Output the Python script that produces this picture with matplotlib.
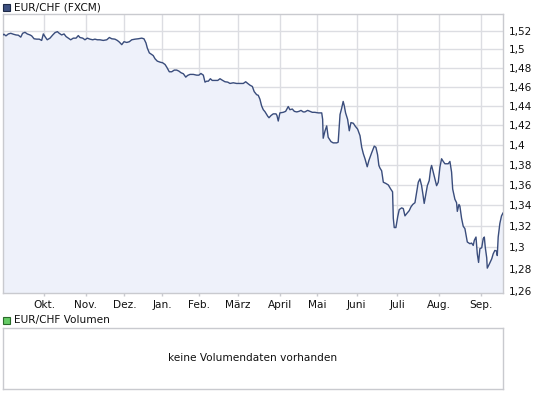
import matplotlib
matplotlib.use("Agg")
import matplotlib.pyplot as plt
from matplotlib.ticker import FixedLocator, NullLocator
from matplotlib.patches import Rectangle

# ---- data -------------------------------------------------------------
days = [0, 0.5, 1.6, 2.9, 4.2, 5.6, 7.0, 8.3, 9.6, 10.6, 11.9, 13.1, 14.6, 15.5,
        16.8, 18.2, 19.6, 20.9, 21.8, 22.7, 23.9, 25.4, 26.9, 28.1, 29.4, 30.4,
        31.7, 33.0, 34.1, 35.3, 36.6, 38.0, 39.5, 40.7, 41.6, 43.1, 44.3, 45.6,
        47.0, 48.5, 49.7, 51.0, 52.4, 54.2, 56.1, 57.5, 58.8, 60.5, 61.8, 62.9,
        64.2, 65.4, 66.9, 68.3, 69.6, 71.4, 73.1, 75.0, 76.2, 77.3, 78.0, 79.1,
        80.4, 81.2, 82.2, 83.4, 84.9, 86.3, 87.6, 88.5, 89.9, 91.2, 92.6, 93.9,
        95.1, 96.2, 97.5, 98.8, 99.8, 101.1, 102.9, 104.7, 105.9, 107.0, 108.3,
        109.2, 110.1, 111.0, 112.1, 113.1, 114.6, 116.1, 117.3, 118.5, 120.0,
        121.5, 122.7, 124.5, 126.3, 128.1, 129.9, 131.2, 132.3, 133.5, 134.8,
        135.8, 137.1, 138.0, 138.9, 139.8, 140.7, 141.6, 143.1, 143.8, 144.9,
        146.1, 147.6, 148.1, 148.8, 149.7, 151.5, 152.8, 154.2, 155.1, 156.4,
        157.5, 158.8, 160.0, 161.1, 162.3, 163.2, 164.7, 165.9, 167.2, 168.6,
        170.4, 172.3, 172.8, 173.1, 174.1, 175.0, 175.8, 177.3, 178.5, 180.4,
        181.2, 181.6, 182.2, 183.1, 183.9, 184.5, 185.2, 186.3, 187.2, 188.1,
        189.4, 190.3, 191.7, 193.0, 193.9, 194.8, 195.7, 196.9, 197.8, 199.3,
        200.7, 201.6, 202.5, 203.2, 203.8, 204.7, 205.6, 207.0, 208.3, 209.6,
        210.6, 211.0, 211.5, 212.4, 213.4, 214.2, 215.5, 216.4, 217.3, 218.4,
        219.6, 220.5, 221.5, 222.7, 223.6, 224.5, 225.4, 226.3, 227.0, 227.7,
        228.6, 229.4, 230.4, 231.2, 231.7, 232.6, 233.5, 234.4, 235.3, 236.2,
        237.1, 238.0, 238.9, 240.7, 241.6, 242.5, 243.1, 244.3, 245.2, 245.6,
        246.5, 247.0, 247.9, 248.8, 249.7, 251.0, 252.4, 253.3, 254.2, 254.8,
        255.7, 256.4, 257.1, 257.8, 258.8, 259.6, 260.2, 260.7, 261.5, 261.8,
        262.9, 264.2, 265.0, 265.9, 266.9, 267.2, 267.7, 268.6, 269.5, 270.3]

rates = [1.5157, 1.5165, 1.5147, 1.5168, 1.5175, 1.5165, 1.5157, 1.5154, 1.5133,
         1.5175, 1.5186, 1.5168, 1.5157, 1.5147, 1.5115, 1.5111, 1.5111, 1.5097,
         1.5168, 1.5139, 1.5104, 1.5122, 1.5157, 1.5182, 1.5193, 1.5175, 1.5157,
         1.5168, 1.5139, 1.5122, 1.5104, 1.5122, 1.5122, 1.5150, 1.5129, 1.5122,
         1.5104, 1.5122, 1.5111, 1.5104, 1.5111, 1.5104, 1.5104, 1.5097, 1.5104,
         1.5129, 1.5115, 1.5111, 1.5097, 1.5079, 1.5051, 1.5083, 1.5075, 1.5083,
         1.5104, 1.5111, 1.5115, 1.5122, 1.5115, 1.5069, 1.5015, 1.4962, 1.4944,
         1.4933, 1.4898, 1.4873, 1.4862, 1.4855, 1.4837, 1.4809, 1.4759, 1.4759,
         1.4777, 1.4777, 1.4766, 1.4749, 1.4738, 1.4702, 1.4720, 1.4731, 1.4731,
         1.4723, 1.4723, 1.4741, 1.4723, 1.4649, 1.4659, 1.4659, 1.4685, 1.4667,
         1.4667, 1.4667, 1.4685, 1.4670, 1.4653, 1.4649, 1.4635, 1.4642, 1.4635,
         1.4635, 1.4635, 1.4653, 1.4635, 1.4617, 1.4603, 1.4549, 1.4517, 1.4510,
         1.4469, 1.4400, 1.4360, 1.4340, 1.4293, 1.4277, 1.4300, 1.4317, 1.4317,
         1.4300, 1.4243, 1.4327, 1.4333, 1.4343, 1.4393, 1.4360, 1.4367, 1.4343,
         1.4337, 1.4343, 1.4353, 1.4337, 1.4337, 1.4353, 1.4343, 1.4333, 1.4333,
         1.4327, 1.4327, 1.4260, 1.4067, 1.4143, 1.4193, 1.4077, 1.4033, 1.4020,
         1.4020, 1.4027, 1.4143, 1.4310, 1.4377, 1.4446, 1.4400, 1.4327, 1.4260,
         1.4143, 1.4227, 1.4220, 1.4193, 1.4160, 1.4093, 1.3977, 1.3910, 1.3860,
         1.3780, 1.3843, 1.3920, 1.3987, 1.3975, 1.3900, 1.3793, 1.3767, 1.3740,
         1.3627, 1.3615, 1.3600, 1.3560, 1.3533, 1.3277, 1.3188, 1.3188, 1.3293,
         1.3360, 1.3377, 1.3370, 1.3300, 1.3325, 1.3350, 1.3385, 1.3410, 1.3427,
         1.3527, 1.3627, 1.3660, 1.3593, 1.3510, 1.3420, 1.3510, 1.3593, 1.3643,
         1.3760, 1.3793, 1.3727, 1.3660, 1.3593, 1.3627, 1.3777, 1.3860, 1.3833,
         1.3810, 1.3810, 1.3833, 1.3727, 1.3560, 1.3460, 1.3427, 1.3343, 1.3410,
         1.3393, 1.3277, 1.3200, 1.3178, 1.3051, 1.3035, 1.3041, 1.3019, 1.3067,
         1.3098, 1.2940, 1.2860, 1.2988, 1.2997, 1.3083, 1.3098, 1.3003, 1.2902,
         1.2807, 1.2845, 1.2893, 1.2940, 1.2972, 1.2965, 1.2924, 1.3098, 1.3227,
         1.3300, 1.3327]

month_labels = ["Okt.", "Nov.", "Dez.", "Jan.", "Feb.", "März", "April", "Mai",
                "Juni", "Juli", "Aug.", "Sep."]
month_days = [22.3, 44.7, 65.6, 86.2, 105.9, 126.9, 150.0, 169.9, 191.2, 213.1,
              235.9, 258.3]

y_ticks = [1.26, 1.28, 1.30, 1.32, 1.34, 1.36, 1.38, 1.40, 1.42, 1.44, 1.46,
           1.48, 1.50, 1.52]
y_labels = ["1,26", "1,28", "1,3", "1,32", "1,34", "1,36", "1,38", "1,4",
            "1,42", "1,44", "1,46", "1,48", "1,5", "1,52"]

title_main = "EUR/CHF (FXCM)"
title_vol = "EUR/CHF Volumen"
no_vol_text = "keine Volumendaten vorhanden"

# ---- style ------------------------------------------------------------
plt.rcParams['font.family'] = ['DejaVu Sans']
FS = 7.6
LINE = "#3a4d7c"
FILL = "#eef1fa"
GRID = "#dcdde2"
FRAME = "#c9cacf"
TXT = "#111111"

W, H = 545, 395
fig = plt.figure(figsize=(W / 100, H / 100), dpi=100)


def fx(px):
    return px / W


def fy(py):
    return 1 - py / H


# main price panel
ax = fig.add_axes([fx(3), fy(293), fx(500), 279 / H])
ax.set_yscale('log')
ax.fill_between(days, rates, 1.0, color=FILL, linewidth=0, zorder=1)
ax.plot(days, rates, color=LINE, linewidth=1.0, zorder=3)
ax.set_xlim(0, 270.3)
ax.set_ylim(1.2579, 1.5388)

ax.yaxis.set_major_locator(FixedLocator(y_ticks))
ax.yaxis.set_minor_locator(NullLocator())
ax.set_yticks(y_ticks)
ax.set_yticklabels(y_labels)
ax.yaxis.tick_right()
ax.tick_params(axis='y', length=0, pad=4, labelsize=FS, labelcolor=TXT)

ax.set_xticks(month_days)
ax.set_xticklabels(month_labels)
ax.xaxis.set_minor_locator(NullLocator())
ax.tick_params(axis='x', length=2.2, width=1, color=FRAME, pad=3,
               labelsize=FS, labelcolor=TXT)

ax.grid(True, color=GRID, linewidth=1.0, zorder=0)
ax.set_axisbelow(True)
for s in ax.spines.values():
    s.set_color(FRAME)
    s.set_linewidth(1.0)

# title of main panel
fig.patches.append(Rectangle((fx(3), fy(10.5)), fx(7), 7 / H,
                             transform=fig.transFigure, facecolor="#3d5080",
                             edgecolor="#1e2a48", linewidth=0.8))
fig.text(fx(14), fy(7), title_main, fontsize=FS, color=TXT,
         ha='left', va='center')

# volume panel
fig.patches.append(Rectangle((fx(3), fy(324)), fx(7), 7 / H,
                             transform=fig.transFigure, facecolor="#66cc66",
                             edgecolor="#2a6a2a", linewidth=0.8))
fig.text(fx(14), fy(320.5), title_vol, fontsize=FS, color=TXT,
         ha='left', va='center')

axv = fig.add_axes([fx(3), fy(389), fx(500), 61.5 / H])
axv.set_xticks([])
axv.set_yticks([])
for s in axv.spines.values():
    s.set_color(FRAME)
    s.set_linewidth(1.0)
axv.text(0.5, 0.5, no_vol_text, transform=axv.transAxes, fontsize=FS,
         color=TXT, ha='center', va='center')

fig.savefig("out.png", dpi=100)
